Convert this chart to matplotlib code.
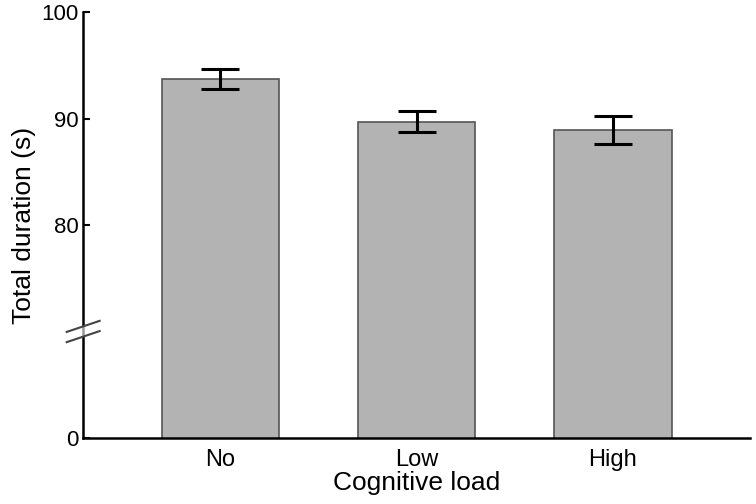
import numpy as np
import matplotlib.pyplot as plt
from matplotlib.patches import Polygon

plt.rcParams['font.family'] = ['Liberation Sans', 'DejaVu Sans']

# data
categories = ['No', 'Low', 'High']
means = [93.7, 89.7, 88.9]
errors = [0.93, 1.0, 1.3]
tick_values = [60, 80, 90, 100]   # 60 is shown as "0" (axis break)
tick_labels = ['0', '80', '90', '100']

fig = plt.figure(figsize=(7.56, 5.04), dpi=100)
ax = fig.add_axes([0.110, 0.131, 0.882, 0.845])

x = np.arange(len(categories))
ax.bar(x, means, width=0.6, color='#b3b3b3', edgecolor='#555555', linewidth=1.2, zorder=2)
ax.errorbar(x, means, yerr=errors, fmt='none', ecolor='black', elinewidth=2.2,
            capsize=14, capthick=2.2, zorder=3)

ax.set_xlim(-0.7, 2.7)
ax.set_ylim(60, 100)
ax.set_xticks(x)
ax.set_xticklabels(categories, fontsize=17)
ax.set_yticks(tick_values)
ax.set_yticklabels(tick_labels, fontsize=16)
ax.tick_params(axis='y', direction='in', length=5, width=1.5, pad=3)
ax.tick_params(axis='x', length=0, pad=8)

ax.spines['top'].set_visible(False)
ax.spines['right'].set_visible(False)
ax.spines['left'].set_linewidth(1.8)
ax.spines['bottom'].set_linewidth(1.8)

ax.set_xlabel('Cognitive load', fontsize=19, labelpad=0)
ax.set_ylabel('Total duration (s)', fontsize=19, labelpad=4)

# axis break marks
dx = 0.0247
ax.add_patch(Polygon([(-dx, 0.225), (dx, 0.251), (dx, 0.275), (-dx, 0.249)],
                     closed=True, transform=ax.transAxes, facecolor='white',
                     edgecolor='none', alpha=0.6, clip_on=False, zorder=4))
ax.plot([-dx, dx], [0.249, 0.275], transform=ax.transAxes, color='#444444',
        lw=1.5, clip_on=False, zorder=5)
ax.plot([-dx, dx], [0.225, 0.251], transform=ax.transAxes, color='#444444',
        lw=1.5, clip_on=False, zorder=5)

fig.savefig('out.png', dpi=100)
